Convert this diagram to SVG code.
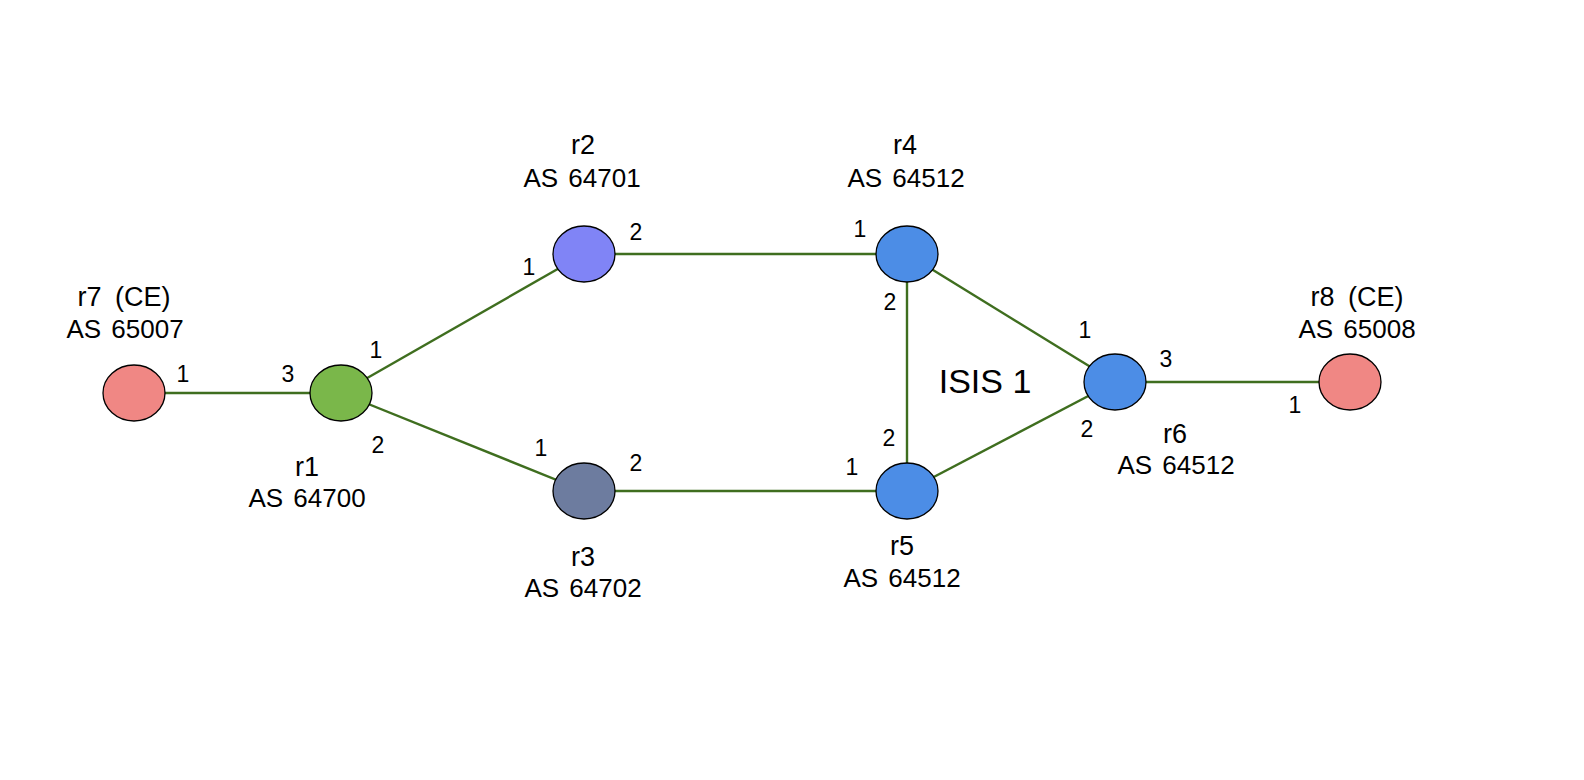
<svg xmlns="http://www.w3.org/2000/svg" width="1584" height="780" viewBox="0 0 1584 780">
<style>
  .edge { stroke: #3F6E1F; stroke-width: 2.4; fill: none; }
  .node { stroke: #000; stroke-width: 1.3; }
  .name { font-family: "Liberation Sans", Arial, sans-serif; font-size: 26px; fill: #000; text-anchor: middle; word-spacing: 3px; }
  .rn { font-size: 27px; word-spacing: 6px; }
  .port { font-family: "Liberation Sans", Arial, sans-serif; font-size: 23px; fill: #000; text-anchor: middle; }
  .big { font-family: "Liberation Sans", Arial, sans-serif; font-size: 34px; fill: #000; text-anchor: middle; }
</style>
<rect x="0" y="0" width="1584" height="780" fill="#ffffff"/>
<g id="connectors">
  <line class="edge" x1="134" y1="393" x2="341" y2="393"/>
  <line class="edge" x1="341" y1="393" x2="584" y2="254"/>
  <line class="edge" x1="341" y1="393" x2="584" y2="491"/>
  <line class="edge" x1="584" y1="254" x2="907" y2="254"/>
  <line class="edge" x1="584" y1="491" x2="907" y2="491"/>
  <line class="edge" x1="907" y1="254" x2="907" y2="491"/>
  <line class="edge" x1="907" y1="254" x2="1115" y2="382"/>
  <line class="edge" x1="907" y1="491" x2="1115" y2="382"/>
  <line class="edge" x1="1115" y1="382" x2="1350" y2="382"/>
</g>
<g id="r7">
  <ellipse class="node" cx="134" cy="393" rx="31" ry="28" fill="#F08784"/>
  <text class="name rn" x="124" y="306">r7 (CE)</text>
  <text class="name" x="125" y="338">AS 65007</text>
  <text class="port" x="183" y="382">1</text>
</g>
<g id="r1">
  <ellipse class="node" cx="341" cy="393" rx="31" ry="28" fill="#7AB74A"/>
  <text class="name rn" x="307" y="476">r1</text>
  <text class="name" x="307" y="507">AS 64700</text>
  <text class="port" x="288" y="382">3</text>
  <text class="port" x="376" y="358">1</text>
  <text class="port" x="378" y="453">2</text>
</g>
<g id="r2">
  <ellipse class="node" cx="584" cy="254" rx="31" ry="28" fill="#8084F6"/>
  <text class="name rn" x="583" y="154">r2</text>
  <text class="name" x="582" y="187">AS 64701</text>
  <text class="port" x="529" y="275">1</text>
  <text class="port" x="636" y="240">2</text>
</g>
<g id="r3">
  <ellipse class="node" cx="584" cy="491" rx="31" ry="28" fill="#6D7C9F"/>
  <text class="name rn" x="583" y="566">r3</text>
  <text class="name" x="583" y="597">AS 64702</text>
  <text class="port" x="541" y="456">1</text>
  <text class="port" x="636" y="471">2</text>
</g>
<g id="r4">
  <ellipse class="node" cx="907" cy="254" rx="31" ry="28" fill="#4C8DE6"/>
  <text class="name rn" x="905" y="154">r4</text>
  <text class="name" x="906" y="187">AS 64512</text>
  <text class="port" x="860" y="237">1</text>
  <text class="port" x="890" y="310">2</text>
</g>
<g id="r5">
  <ellipse class="node" cx="907" cy="491" rx="31" ry="28" fill="#4C8DE6"/>
  <text class="name rn" x="902" y="555">r5</text>
  <text class="name" x="902" y="587">AS 64512</text>
  <text class="port" x="852" y="475">1</text>
  <text class="port" x="889" y="446">2</text>
</g>
<g id="r6">
  <ellipse class="node" cx="1115" cy="382" rx="31" ry="28" fill="#4C8DE6"/>
  <text class="name rn" x="1175" y="443">r6</text>
  <text class="name" x="1176" y="474">AS 64512</text>
  <text class="port" x="1085" y="338">1</text>
  <text class="port" x="1166" y="367">3</text>
  <text class="port" x="1087" y="437">2</text>
</g>
<g id="r8">
  <ellipse class="node" cx="1350" cy="382" rx="31" ry="28" fill="#F08784"/>
  <text class="name rn" x="1357" y="306">r8 (CE)</text>
  <text class="name" x="1357" y="338">AS 65008</text>
  <text class="port" x="1295" y="413">1</text>
</g>
<g id="isis">
  <text class="big" x="985" y="393">ISIS 1</text>
</g>
</svg>
